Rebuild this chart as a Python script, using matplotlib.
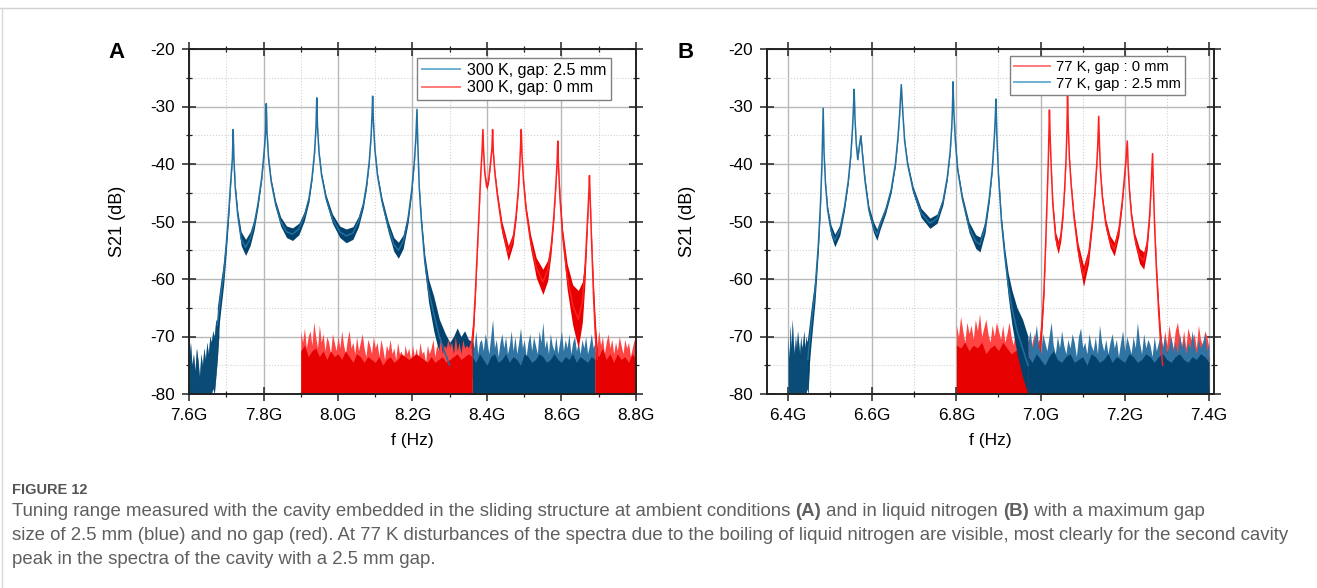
import matplotlib
matplotlib.use("Agg")
import matplotlib.pyplot as plt
import numpy as np
from matplotlib.lines import Line2D
from matplotlib.ticker import FixedLocator, MultipleLocator

plt.rcParams['font.family'] = ['Liberation Sans', 'DejaVu Sans']
plt.rcParams['axes.unicode_minus'] = False

# ---------------- data (f in GHz, S21 in dB) ----------------
y_ticks = [-20, -30, -40, -50, -60, -70, -80]
a_xticks = [7.6, 7.8, 8.0, 8.2, 8.4, 8.6, 8.8]
b_xticks = [6.4, 6.6, 6.8, 7.0, 7.2, 7.4]

# panel A, 300 K, gap 2.5 mm (blue): trace centre and half thickness of the noisy trace
a_blue_f = [7.676, 7.685, 7.693, 7.700, 7.707, 7.712, 7.7165, 7.7185, 7.7205, 7.724,
            7.731, 7.740, 7.752, 7.764, 7.775, 7.785, 7.795, 7.8015, 7.8055, 7.8075,
            7.8095, 7.8135, 7.8205, 7.8325, 7.846, 7.862, 7.878, 7.895, 7.910, 7.922,
            7.930, 7.937, 7.941, 7.943, 7.945, 7.949, 7.956, 7.968, 7.985, 8.005,
            8.022, 8.040, 8.055, 8.068, 8.077, 8.084, 8.089, 8.091, 8.093, 8.095,
            8.099, 8.106, 8.118, 8.135, 8.150, 8.162, 8.175, 8.188, 8.198, 8.205,
            8.209, 8.212, 8.214, 8.218, 8.224, 8.233, 8.243, 8.257, 8.272, 8.288,
            8.300]
a_blue_db = [-68, -63, -59, -54, -48, -43, -39, -34, -39, -44,
             -49, -53, -54.5, -53, -50.5, -47, -42.5, -38, -34.5, -29.5,
             -34.5, -39, -43, -47, -50, -51.8, -52.2, -51.3, -49, -46,
             -42.5, -38, -33.5, -28.5, -33.5, -38, -42, -46, -49.5, -51.8,
             -52.5, -52, -50, -47, -43.5, -39.5, -35, -32, -28.2, -32.5,
             -37.5, -42, -46.5, -51, -54, -55, -53.5, -49.5, -44.5, -39.5,
             -35.5, -30.5, -36, -44, -50, -57, -62, -66, -70, -73,
             -75]
a_blue_spread = [3, 2.5, 2, 1.4, 0.9, 0.5, 0.3, 0.2, 0.3, 0.5,
                 0.8, 1.2, 1.4, 1.2, 0.9, 0.6, 0.4, 0.3, 0.2, 0.2,
                 0.2, 0.3, 0.4, 0.6, 0.8, 1.0, 1.1, 1.0, 0.8, 0.6,
                 0.4, 0.3, 0.2, 0.2, 0.2, 0.3, 0.4, 0.6, 0.8, 1.0,
                 1.2, 1.1, 0.9, 0.6, 0.5, 0.3, 0.2, 0.2, 0.2, 0.2,
                 0.3, 0.4, 0.6, 0.9, 1.2, 1.4, 1.2, 0.8, 0.5, 0.3,
                 0.2, 0.2, 0.3, 0.4, 0.7, 1.2, 2, 3, 3, 3.5,
                 4]
a_blue_left_top = [-74, -71, -75, -73, -76, -72, -74, -77, -73, -75, -72, -74, -71, -73, -70, -71,
                   -69, -70, -67, -68, -66]
a_blue_left_bot = [-80, -80, -80, -80, -80, -80, -80, -80, -80, -80, -80, -80, -80, -80, -80, -80,
                   -79, -80, -77, -74, -70]
a_blue_tail_f = [8.300, 8.310, 8.320, 8.330, 8.340, 8.350, 8.362]
a_blue_tail_hi = [-71, -70, -68.5, -70, -69, -70.5, -71]
a_blue_tail_lo = [-79, -78, -77, -78, -77, -78, -77]
a_blue_noise_top = [-70, -72, -69, -73, -71, -70.5, -72.5, -69.5, -71, -73,
                    -70, -67, -72, -70.5, -73.5, -71, -69.5, -72, -70, -73,
                    -71.5, -69, -72.5, -70, -73, -71, -68.5, -72, -70.5, -73.5,
                    -71, -69.5, -72.5, -70, -71.5, -73, -69, -71, -67.5, -72,
                    -70.5, -73, -69.5, -71.5, -72.5, -70, -73, -71, -69, -72.5,
                    -70.5, -72, -69.5, -73, -71, -70, -72.5, -71, -73, -70.5,
                    -72, -70, -73, -71.5, -69.5, -72, -71]
a_blue_noise_core = [-73.5, -74.5, -73, -74, -75, -73.5, -73, -74.5, -74, -73, -74.5, -73.5,
                     -74, -75, -73, -73.5, -74.5, -74, -73, -73.5, -74.5, -74, -73, -74,
                     -74.5, -73.5, -74, -73, -74.5, -73.5, -74, -74.5, -73.5, -74]

# panel A, 300 K, gap 0 mm (red)
a_red_f = [8.358, 8.364, 8.369, 8.374, 8.379, 8.383, 8.3865, 8.389, 8.391, 8.394,
           8.399, 8.404, 8.409, 8.413, 8.415, 8.417, 8.421, 8.428, 8.440, 8.457,
           8.470, 8.478, 8.484, 8.488, 8.490, 8.492, 8.494, 8.498, 8.505, 8.517,
           8.532, 8.550, 8.563, 8.572, 8.579, 8.584, 8.588, 8.590, 8.592, 8.596,
           8.603, 8.615, 8.630, 8.645, 8.656, 8.663, 8.668, 8.672, 8.674, 8.675,
           8.677, 8.681, 8.686, 8.691, 8.696]
a_red_db = [-72, -68, -62, -55, -48, -42, -38, -34, -38, -41.5,
            -44, -43, -40, -37.5, -34, -38, -41.5, -45.5, -51, -55.5,
            -53, -49, -44.5, -40, -37, -34, -38.5, -43, -48, -53.5,
            -58, -60.5, -58.5, -54.5, -49.5, -44.5, -40, -36, -40.5, -46,
            -52.5, -59.5, -64.5, -67, -64, -58.5, -52, -47, -44, -42,
            -46, -54, -63, -70, -74]
a_red_spread = [2, 1.5, 1, 0.6, 0.4, 0.3, 0.2, 0.2, 0.3, 0.4,
                0.5, 0.4, 0.3, 0.2, 0.2, 0.3, 0.4, 0.6, 1.0, 1.3,
                1.0, 0.7, 0.5, 0.3, 0.2, 0.2, 0.3, 0.4, 0.7, 1.2,
                1.7, 2.2, 1.8, 1.1, 0.7, 0.4, 0.3, 0.2, 0.3, 0.6,
                1.2, 2.2, 3.5, 5, 3.5, 2.2, 1.2, 0.6, 0.3, 0.2,
                0.4, 1.0, 2, 2.5, 2]
a_red_noise1_top = [-69, -71, -68.5, -72, -70, -69, -71.5, -67.5, -70, -72,
                    -68, -71, -69.5, -72.5, -70, -71, -73, -69.5, -71, -72.5,
                    -70, -72, -69, -71.5, -73, -70.5, -69, -72, -71, -73,
                    -70, -72.5, -71, -69.5, -72, -73.5, -70.5, -71.5, -73, -70,
                    -72, -71, -73.5, -70.5, -72, -74, -71.5, -72.5, -70.5, -73,
                    -72, -74, -71, -73, -72.5, -74.5, -71.5, -73, -72, -74,
                    -71.5, -73.5, -72, -74, -71, -73, -72.5, -74.5, -71.5, -73,
                    -72, -70.5, -73.5, -71.5, -72.5, -70, -73, -71.5, -72, -70.5,
                    -72, -71, -73, -70, -72.5, -71, -73, -70.5, -72, -71.5,
                    -72, -71, -70]
a_red_noise1_core = [-72.5, -71.5, -73.5, -72.5, -72, -73.5, -72.5, -74, -72.5, -73.5,
                     -73, -74, -72.5, -73.5, -74.5, -73, -73.5, -74.5, -73.5, -74,
                     -74.5, -73.5, -75, -74, -73.5, -74.5, -74, -73, -73.5, -74,
                     -73.5, -73, -73.5, -74, -74.5, -73.5, -74.5, -74, -73.5, -74.5,
                     -74, -73.5, -73, -74, -73.5, -73, -73.5]
a_red_noise2_top = [-70, -72, -69, -71.5, -70, -73, -71, -69.5, -72, -70.5, -73, -71,
                    -72.5, -70, -71.5, -73, -70.5, -72, -71, -73.5, -72, -70.5, -72]
a_red_noise2_core = [-72.5, -73.5, -72, -74, -73, -74.5, -73, -74, -73.5, -74.5, -73, -74]

# panel B, 77 K, gap 2.5 mm (blue)
b_blue_f = [6.447, 6.455, 6.464, 6.472, 6.477, 6.4805, 6.4835, 6.4855, 6.489, 6.494,
            6.502, 6.511, 6.523, 6.534, 6.543, 6.549, 6.553, 6.555, 6.557, 6.559,
            6.562, 6.5655, 6.569, 6.573, 6.577, 6.583, 6.592, 6.603, 6.611, 6.619,
            6.632, 6.645, 6.655, 6.661, 6.665, 6.669, 6.673, 6.677, 6.684, 6.697,
            6.716, 6.737, 6.754, 6.768, 6.778, 6.785, 6.789, 6.7905, 6.792, 6.794,
            6.7975, 6.803, 6.814, 6.830, 6.846, 6.856, 6.868, 6.878, 6.885, 6.890,
            6.892, 6.894, 6.896, 6.900, 6.907, 6.915, 6.923, 6.932, 6.944, 6.957,
            6.970]
b_blue_db = [-74, -68, -62, -54, -47, -40, -30.3, -38, -43.5, -48,
             -51.5, -53.3, -51.5, -47.5, -43, -38.5, -34, -31, -27, -32,
             -36.5, -39.2, -37, -35.1, -38.5, -43, -48, -51, -52.3, -50.5,
             -48, -44.5, -40, -35.5, -31.5, -26.2, -31.5, -36, -40, -44.5,
             -48.5, -50.3, -49.5, -46.5, -42.5, -38, -33.5, -30.5, -25.7, -31,
             -36, -41, -46, -51, -53.5, -54, -51, -46, -41, -35.5,
             -32.5, -28.7, -35, -42, -50, -56, -61, -65, -69, -72,
             -75]
b_blue_spread = [4, 3, 2, 1.2, 0.6, 0.3, 0.2, 0.3, 0.4, 0.6,
                 0.9, 1.1, 0.9, 0.6, 0.4, 0.3, 0.2, 0.2, 0.2, 0.2,
                 0.3, 0.3, 0.3, 0.3, 0.4, 0.5, 0.7, 0.9, 1.0, 0.8,
                 0.6, 0.5, 0.4, 0.3, 0.2, 0.2, 0.2, 0.3, 0.4, 0.6,
                 0.8, 0.9, 0.8, 0.6, 0.4, 0.3, 0.2, 0.2, 0.2, 0.2,
                 0.3, 0.4, 0.6, 0.9, 1.2, 1.3, 1.0, 0.6, 0.4, 0.3,
                 0.2, 0.2, 0.3, 0.4, 0.8, 1.2, 2, 3, 4, 5,
                 5]
b_blue_left_top = [-70, -74, -68, -72, -67, -71, -73, -70, -72, -69, -71, -73, -70, -72, -71,
                   -69, -72, -70, -71, -70, -72]
b_blue_left_bot = [-80, -80, -80, -80, -80, -80, -80, -80, -80, -80, -80, -80, -80, -80, -80,
                   -80, -80, -80, -79, -80, -76]
b_blue_noise_top = [-71, -69, -72, -70.5, -68, -71.5, -73, -69.5, -71, -72.5,
                    -70, -67.5, -71.5, -73, -70, -72, -69, -71.5, -73, -70.5,
                    -72, -69.5, -71, -73.5, -70, -68.5, -72, -71, -73, -69.5,
                    -71.5, -72.5, -70, -73, -68, -71, -72.5, -70.5, -73, -71,
                    -69.5, -72, -70.5, -73.5, -71, -69, -72.5, -70, -71.5, -73,
                    -70, -72, -67.5, -71, -73, -69.5, -72, -70.5, -71.5, -73.5,
                    -70, -72.5, -71, -69.5, -72, -70, -73, -71.5, -70, -72.5,
                    -71, -73, -69.5, -72, -70.5, -73, -71, -72, -69, -71.5,
                    -73, -70.5, -72, -71, -69.5, -72.5, -71]
b_blue_noise_core = [-73.5, -74.5, -73, -74, -75, -73.5, -72.5, -74, -74.5, -73.5, -73,
                     -74.5, -74, -73.5, -75, -73, -73.5, -74.5, -74, -73, -74.5, -73.5,
                     -74, -74.5, -73, -73.5, -74.5, -74, -73, -73.5, -74.5, -73.5, -73,
                     -74, -74.5, -73.5, -73, -74, -74.5, -73.5, -74, -73, -73.5, -74.5]

# panel B, 77 K, gap 0 mm (red)
b_red_f = [6.998, 7.003, 7.008, 7.012, 7.0155, 7.0185, 7.021, 7.023, 7.0255, 7.029,
           7.036, 7.042, 7.048, 7.053, 7.057, 7.0605, 7.0625, 7.064, 7.066, 7.0685,
           7.0725, 7.079, 7.089, 7.102, 7.114, 7.123, 7.129, 7.1335, 7.136, 7.138,
           7.140, 7.1425, 7.147, 7.155, 7.165, 7.175, 7.186, 7.194, 7.199, 7.2025,
           7.206, 7.208, 7.211, 7.216, 7.224, 7.235, 7.245, 7.253, 7.259, 7.2625,
           7.266, 7.268, 7.271, 7.275, 7.280, 7.285, 7.290]
b_red_db = [-72, -68, -62, -54, -46, -39, -30.6, -36, -41, -47,
            -53, -54.5, -52.5, -49, -44.5, -39, -34.5, -28, -34, -39,
            -43.5, -49, -55, -59.5, -56, -50, -45, -40, -36.5, -31.7,
            -37, -41.5, -46, -50.5, -53.5, -54.8, -51.5, -46.5, -42.5, -39.5,
            -36, -40.5, -44.5, -49, -53, -56, -56.8, -54, -49, -44,
            -38.2, -44, -51, -58, -65, -71, -75]
b_red_spread = [2, 1.5, 1, 0.6, 0.4, 0.3, 0.2, 0.2, 0.3, 0.6,
                1.0, 1.1, 0.9, 0.6, 0.4, 0.3, 0.2, 0.2, 0.2, 0.3,
                0.4, 0.7, 1.2, 1.8, 1.3, 0.8, 0.5, 0.3, 0.2, 0.2,
                0.2, 0.3, 0.5, 0.8, 1.0, 1.2, 1.0, 0.7, 0.4, 0.3,
                0.2, 0.3, 0.4, 0.6, 0.9, 1.3, 1.5, 1.1, 0.7, 0.4,
                0.2, 0.3, 0.6, 1.0, 1.5, 2, 2.5]
b_red_noise1_top = [-68, -70, -66.5, -69, -71, -67.5, -69.5, -68, -70.5, -67,
                    -69, -66, -70, -68.5, -67, -69.5, -71, -68, -70, -67.5,
                    -69, -70.5, -68, -71, -69.5, -67.5, -70, -71.5, -69, -72,
                    -70, -71.5, -69.5, -72, -70.5, -73, -71, -69.5, -72, -70.5,
                    -71]
b_red_noise1_core = [-71.5, -72, -71, -72.5, -71.5, -72, -71, -73, -72, -71.5, -72.5,
                     -71, -72, -73, -72.5, -72, -73.5, -73, -74, -73.5, -74]
b_red_noise2_top = [-72, -69, -71.5, -68, -70.5, -72, -69, -67.5, -70, -71.5, -69, -72,
                    -68.5, -70, -71, -69.5, -72, -68, -70.5, -71.5, -69, -70, -72]
b_red_noise2_core = [-73.5, -72.5, -74, -73, -72.5, -74, -73, -72.5, -73.5, -74, -73, -73.5]

caption_runs = [
    [("Tuning range measured with the cavity embedded in the sliding structure at ambient conditions ", False),
     ("(A)", True), (" and in liquid nitrogen ", False), ("(B)", True), (" with a maximum gap", False)],
    [("size of 2.5 mm (blue) and no gap (red). At 77 K disturbances of the spectra due to the boiling of "
      "liquid nitrogen are visible, most clearly for the second cavity", False)],
    [("peak in the spectra of the cavity with a 2.5 mm gap.", False)],
]

# ---------------- styles ----------------
BLUE_LINE, BLUE_DARK, BLUE_LIGHT = '#2270a0', '#03426c', '#2f74a3'
RED_LINE, RED_DARK, RED_LIGHT = '#ff2020', '#e60000', '#ff4444'
W, H = 1317, 588


def fx(x):
    return x / W


def fy(y):
    return 1 - y / H


def noise(ax, f0, f1, top, core, light, dark, bottom=None):
    f = np.linspace(f0, f1, len(top))
    lo = np.full(len(top), -85.0) if bottom is None else np.array(bottom, float)
    ax.fill_between(f, lo, top, color=light, lw=0)
    fc = np.linspace(f0, f1, len(core))
    ax.fill_between(fc, -85, core, color=dark, lw=0)


def trace(ax, f, db, spread, band, line):
    db = np.array(db, float)
    sp = np.array(spread, float)
    ax.plot(f, db, color=line, lw=1.1)
    ax.fill_between(f, db - sp, db + sp, color=band, lw=0)


def style(ax, xlim, xticks):
    ax.set_xlim(*xlim)
    ax.set_ylim(-80, -20)
    ax.xaxis.set_major_locator(FixedLocator(xticks))
    ax.set_xticklabels([f"{v:.1f}G" for v in xticks])
    ax.xaxis.set_minor_locator(MultipleLocator(0.1))
    ax.yaxis.set_major_locator(FixedLocator(y_ticks))
    ax.set_yticklabels([str(v) for v in y_ticks])
    ax.yaxis.set_minor_locator(MultipleLocator(5))
    ax.set_axisbelow(True)
    ax.grid(which='major', color='#b8b8b8', lw=1.0)
    ax.grid(which='minor', color='#d2d2d2', lw=0.8, ls=':')
    ax.tick_params(which='major', direction='inout', length=10, width=1.1, top=True, right=True,
                   labelsize=12.3, pad=5, color='#222222')
    ax.tick_params(which='minor', direction='inout', length=5, width=0.9, top=True, right=True,
                   color='#222222')
    for s in ax.spines.values():
        s.set_linewidth(1.4)
        s.set_color('#222222')


fig = plt.figure(figsize=(W / 100, H / 100), dpi=100)
axA = fig.add_axes([fx(189), fy(394), fx(636) - fx(189), fy(49) - fy(394)])
axB = fig.add_axes([fx(767), fy(394), fx(1214) - fx(767), fy(49) - fy(394)])

# panel A: blue underneath, red on top
noise(axA, 7.600, 7.680, a_blue_left_top, [-85, -85], BLUE_LIGHT, BLUE_DARK, a_blue_left_bot)
axA.fill_between(np.linspace(7.600, 7.680, len(a_blue_left_top)), a_blue_left_bot, a_blue_left_top,
                 color=BLUE_DARK, lw=0, alpha=0.8)
noise(axA, 8.360, 8.690, a_blue_noise_top, a_blue_noise_core, BLUE_LIGHT, BLUE_DARK)
axA.fill_between(a_blue_tail_f, a_blue_tail_lo, a_blue_tail_hi, color=BLUE_DARK, lw=0)
trace(axA, a_blue_f, a_blue_db, a_blue_spread, BLUE_DARK, BLUE_LINE)
noise(axA, 7.900, 8.360, a_red_noise1_top, a_red_noise1_core, RED_LIGHT, RED_DARK)
noise(axA, 8.690, 8.800, a_red_noise2_top, a_red_noise2_core, RED_LIGHT, RED_DARK)
trace(axA, a_red_f, a_red_db, a_red_spread, RED_DARK, RED_LINE)
style(axA, (7.6, 8.8), a_xticks)

# panel B: red underneath, blue on top
noise(axB, 6.800, 7.000, b_red_noise1_top, b_red_noise1_core, RED_LIGHT, RED_DARK)
noise(axB, 7.290, 7.400, b_red_noise2_top, b_red_noise2_core, RED_LIGHT, RED_DARK)
trace(axB, b_red_f, b_red_db, b_red_spread, RED_DARK, RED_LINE)
noise(axB, 6.400, 6.450, b_blue_left_top, [-85, -85], BLUE_LIGHT, BLUE_DARK, b_blue_left_bot)
axB.fill_between(np.linspace(6.400, 6.450, len(b_blue_left_top)), b_blue_left_bot, b_blue_left_top,
                 color=BLUE_DARK, lw=0, alpha=0.8)
noise(axB, 6.970, 7.400, b_blue_noise_top, b_blue_noise_core, BLUE_LIGHT, BLUE_DARK)
trace(axB, b_blue_f, b_blue_db, b_blue_spread, BLUE_DARK, BLUE_LINE)
style(axB, (6.35, 7.412), b_xticks)

leg_kw = dict(loc='upper right', borderaxespad=0, frameon=True, fancybox=False,
              handlelength=2.4, handletextpad=0.4, labelspacing=0.15, borderpad=0.3)
hA = [Line2D([], [], color='#6fb0d2', lw=1.4), Line2D([], [], color='#ff7a7a', lw=1.4)]
legA = axA.legend(hA, ['300 K, gap: 2.5 mm', '300 K, gap: 0 mm'], fontsize=11.5,
                  bbox_to_anchor=(0.944, 0.974), **leg_kw)
hB = [Line2D([], [], color='#ff7a7a', lw=1.4), Line2D([], [], color='#6fb0d2', lw=1.4)]
legB = axB.legend(hB, ['77 K, gap : 0 mm', '77 K, gap : 2.5 mm'], fontsize=10.6,
                  bbox_to_anchor=(0.935, 0.98), **leg_kw)
for lg in (legA, legB):
    lg.get_frame().set_edgecolor('#808080')
    lg.get_frame().set_linewidth(1.0)
    lg.get_frame().set_alpha(1)

# axis labels and panel letters
for cx, letter, lx in [(412.5, 'A', 117), (990.5, 'B', 686)]:
    fig.text(fx(cx), fy(440), 'f (Hz)', ha='center', va='center', fontsize=12.5)
    fig.text(fx(lx + 1), fy(221.5), 'S21 (dB)', ha='center', va='center', rotation=90, fontsize=13)
    fig.text(fx(lx), fy(52), letter, ha='center', va='center', fontsize=16, fontweight='bold')

# frame lines of the page
fig.add_artist(Line2D([0, 1], [fy(8), fy(8)], color='#d0d0d0', lw=1.0))
fig.add_artist(Line2D([fx(2), fx(2)], [fy(8), 0], color='#d8d8d8', lw=1.0))

# caption
cap_font = ['Liberation Sans Narrow', 'Liberation Sans', 'DejaVu Sans']
renderer = fig.canvas.get_renderer()
probe = fig.text(0, 0, caption_runs[1][0][0], fontsize=10, family=cap_font)
scale = (1300 - 12) / probe.get_window_extent(renderer).width
probe.remove()
cap_size = 10 * scale
fig.text(fx(12), fy(490), 'FIGURE 12', fontsize=cap_size * 0.78, color='#555555',
         family=cap_font, va='center', fontweight='bold')
for i, runs in enumerate(caption_runs):
    x = fx(12)
    for s, bold in runs:
        t = fig.text(x, fy(512 + 24 * i), s, fontsize=cap_size, color='#5f5f5f', family=cap_font,
                     va='center', fontweight='bold' if bold else 'normal')
        x += t.get_window_extent(renderer).width / W

fig.savefig('out.png', dpi=100)
